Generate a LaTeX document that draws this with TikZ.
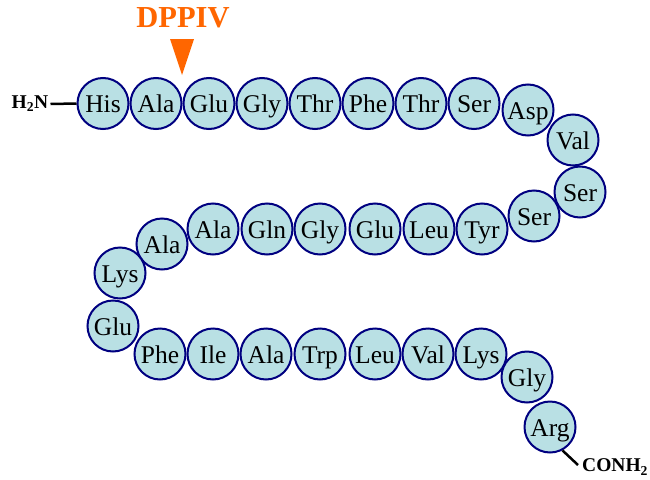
\documentclass[tikz,border=0pt]{standalone}
\usepackage{fontspec}
\setmainfont{Liberation Serif}
\definecolor{resfill}{HTML}{B9E0E4}
\definecolor{resline}{HTML}{000080}
\definecolor{dppiv}{HTML}{FF6600}
\tikzset{
  res/.style={circle, draw=resline, fill=resfill, line width=2pt,
    minimum size=51pt, inner sep=0pt,
    font=\fontsize{25.5}{25.5}\selectfont, text height=18.5pt, text depth=0pt},
  term/.style={font=\bfseries\fontsize{19.5}{19.5}\selectfont, inner sep=0pt},
  bond/.style={line width=2.5pt, black}
}
\begin{document}
\begin{tikzpicture}[x=1pt, y=-1pt]
\useasboundingbox (0,0) rectangle (650,479);
% top row
\node[res] (r1)  at (103,103.5) {His};
\node[res] (r2)  at (156,103.5) {Ala};
\node[res] (r3)  at (209,103.5) {Glu};
\node[res] (r4)  at (262,103.5) {Gly};
\node[res] (r5)  at (315,103.5) {Thr};
\node[res] (r6)  at (368,103.5) {Phe};
\node[res] (r7)  at (421,103.5) {Thr};
\node[res] (r8)  at (474,103.5) {Ser};
% right turn
\node[res] (r9)  at (528,110) {Asp};
\node[res] (r10) at (573,140) {Val};
\node[res] (r11) at (580,192) {Ser};
\node[res] (r12) at (534,216) {Ser};
% middle row
\node[res] (r13) at (482,229) {Tyr};
\node[res] (r14) at (429,229) {Leu};
\node[res] (r15) at (375,229) {Glu};
\node[res] (r16) at (320,229) {Gly};
\node[res] (r17) at (267,229) {Gln};
\node[res] (r18) at (213,229) {Ala};
% left turn
\node[res] (r19) at (162,244) {Ala};
\node[res] (r20) at (120,273) {Lys};
\node[res] (r21) at (113,326) {Glu};
% bottom row
\node[res] (r22) at (160,354) {Phe};
\node[res] (r23) at (213,354) {Ile};
\node[res] (r24) at (266,354) {Ala};
\node[res] (r25) at (320,354) {Trp};
\node[res] (r26) at (375,354) {Leu};
\node[res] (r27) at (428,354) {Val};
\node[res] (r28) at (481,354) {Lys};
% tail
\node[res] (r29) at (527,377) {Gly};
\node[res] (r30) at (550,427) {Arg};
% termini
\node[term, anchor=east] (nterm) at (48.5,104) {H\textsubscript{2}N};
\draw[bond] (nterm.east) ++(2pt,0) coordinate (nb) -- (r1.west);
\node[term, anchor=west] (cterm) at (582,467) {CONH\textsubscript{2}};
\coordinate (cb) at (578,465);
\draw[bond] (r30.-62) -- (cb);
% cleavage site
\node[font=\bfseries\fontsize{30.5}{30.5}\selectfont, text=dppiv, inner sep=0pt] (enz) at (183,18) {DPPIV};
\fill[dppiv] (170,39) -- (194,39) -- (182,75) -- cycle;
\end{tikzpicture}
\end{document}
